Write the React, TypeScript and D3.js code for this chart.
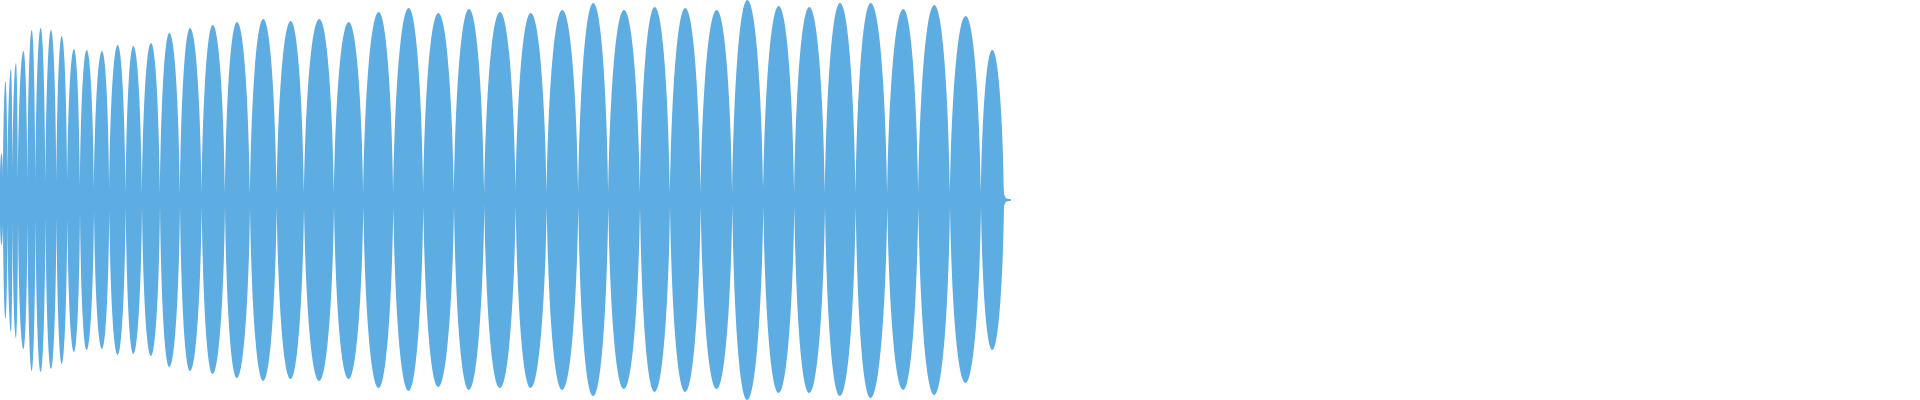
import React from "react";
import * as d3 from "d3";

const WIDTH = 1920;
const HEIGHT = 400;
const COLOR = "#5dade2";

// Quiet points between beats (sample column, half-amplitude)
const nodeX = [0, 3, 7.5, 12.5, 18, 27.5, 35.5, 45.5, 56.5, 67.3, 80, 94, 109.3, 125.7, 142, 160, 180, 201.7, 225, 250, 276.7, 304, 334, 363.3, 393.3, 423.3, 454, 484.3, 515.7, 546.7, 578.3, 608.3, 640, 670, 700.7, 732.3, 763.3, 794.3, 825, 855.7, 887.3, 918.3, 950, 981, 1004];
const nodeAmp = [0.11, 0.11, 0.1, 0.1, 0.1, 0.1, 0.09, 0.085, 0.08, 0.09, 0.065, 0.055, 0.055, 0.035, 0.035, 0.03, 0.03, 0.035, 0.035, 0.035, 0.035, 0.035, 0.035, 0.035, 0.035, 0.035, 0.035, 0.035, 0.035, 0.035, 0.035, 0.035, 0.035, 0.035, 0.035, 0.035, 0.035, 0.035, 0.035, 0.035, 0.035, 0.035, 0.035, 0.035, 0.03];

// Beat peaks (sample column, max and min sample values)
const peakX = [1.5, 5.5, 11, 16, 23.5, 31.7, 40.7, 51, 61.7, 74, 86.7, 102, 117.7, 133.3, 151, 169.3, 190, 212.7, 237, 263.3, 290.7, 319.3, 348.7, 378.7, 408.7, 438.3, 469, 500, 530.7, 562.3, 593.3, 624, 654.7, 685.3, 716.7, 747.3, 778.7, 809.3, 840, 870.7, 903.3, 934.3, 965.7, 992.3];
const peakMax = [0.235, 0.595, 0.655, 0.685, 0.745, 0.85, 0.86, 0.85, 0.82, 0.755, 0.75, 0.745, 0.775, 0.77, 0.785, 0.835, 0.86, 0.875, 0.89, 0.905, 0.895, 0.905, 0.89, 0.94, 0.96, 0.935, 0.955, 0.94, 0.935, 0.95, 0.985, 0.95, 0.965, 0.96, 0.95, 1.0, 0.97, 0.965, 0.985, 0.985, 0.955, 0.975, 0.92, 0.75];
const peakMin = [-0.225, -0.595, -0.66, -0.69, -0.745, -0.855, -0.86, -0.845, -0.82, -0.76, -0.75, -0.745, -0.775, -0.77, -0.78, -0.835, -0.855, -0.87, -0.89, -0.905, -0.895, -0.905, -0.895, -0.94, -0.955, -0.935, -0.95, -0.94, -0.94, -0.95, -0.98, -0.945, -0.96, -0.96, -0.945, -1.0, -0.965, -0.965, -0.98, -0.99, -0.95, -0.975, -0.915, -0.75];

// Fade-out tail after the last beat
const tailX = [1004, 1006, 1011];
const tailAmp = [0.03, 0.008, 0.004];

// envelope shape of one half-beat (bezier handles, fraction of node→peak span)
const H1 = [0.1, 0.55];
const H2 = [0.5, 1];

type Pt = { x: number; v: number };

function halfBeat(p: d3.Path, a: Pt, b: Pt, x: d3.ScaleLinear<number, number>, y: d3.ScaleLinear<number, number>, rising: boolean) {
  const ax = x(a.x), ay = y(a.v), bx = x(b.x), by = y(b.v);
  const dx = bx - ax, dy = by - ay;
  if (rising) {
    p.bezierCurveTo(ax + H1[0] * dx, ay + H1[1] * dy, ax + H2[0] * dx, ay + H2[1] * dy, bx, by);
  } else {
    // from peak (a) down to node (b): mirror of rising
    p.bezierCurveTo(bx - H2[0] * dx, by - H2[1] * dy, bx - H1[0] * dx, by - H1[1] * dy, bx, by);
  }
}

export default function App() {
  const x = d3.scaleLinear().domain([0, WIDTH]).range([0, WIDTH]);
  const y = d3.scaleLinear().domain([-1, 1]).range([HEIGHT, 0]);

  const p = d3.path();
  for (let i = 0; i < peakX.length; i++) {
    const n0 = nodeX[i], n1 = nodeX[i + 1];
    const topN0 = { x: n0, v: nodeAmp[i] };
    const topPk = { x: peakX[i], v: peakMax[i] };
    const topN1 = { x: n1, v: nodeAmp[i + 1] };
    const botN1 = { x: n1, v: -nodeAmp[i + 1] };
    const botPk = { x: peakX[i], v: peakMin[i] };
    const botN0 = { x: n0, v: -nodeAmp[i] };
    p.moveTo(x(topN0.x), y(topN0.v));
    halfBeat(p, topN0, topPk, x, y, true);
    halfBeat(p, topPk, topN1, x, y, false);
    p.lineTo(x(botN1.x), y(botN1.v));
    halfBeat(p, botN1, botPk, x, y, true);
    halfBeat(p, botPk, botN0, x, y, false);
    p.closePath();
  }

  const tailArea = d3
    .area<{ x: number; a: number }>()
    .x((d) => x(d.x))
    .y0((d) => y(-d.a))
    .y1((d) => y(d.a))
    .curve(d3.curveLinear);
  const tp = tailArea(tailX.map((tx, i) => ({ x: tx, a: tailAmp[i] })));

  return (
    <svg
      width={WIDTH}
      height={HEIGHT}
      style={{ position: "absolute", left: 0, top: 0, background: "#ffffff" }}
    >
      <path d={p.toString() + (tp || "")} fill={COLOR} />
    </svg>
  );
}
